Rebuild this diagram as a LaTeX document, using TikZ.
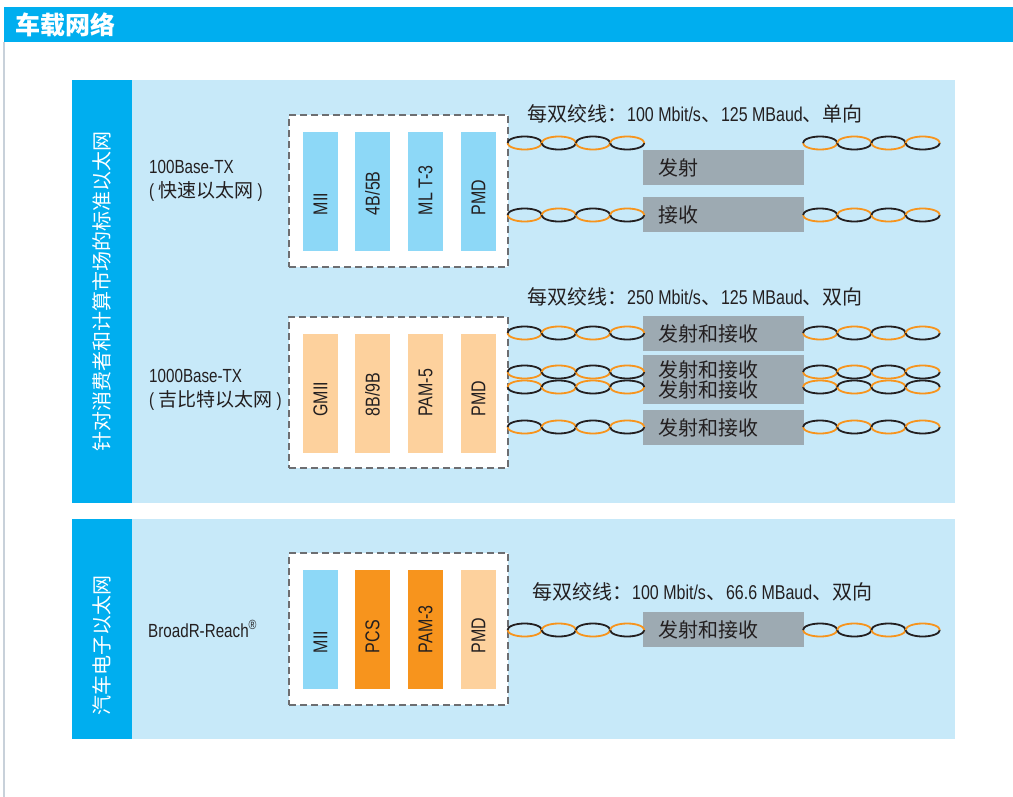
\documentclass[tikz,border=0pt]{standalone}
\usepackage{fontspec}
\setmainfont{Noto Sans CJK SC}
\newfontfamily\latnfont{Liberation Sans}[FakeStretch=0.8]
\newcommand\latn[1]{{\latnfont #1}}

\definecolor{hdrblue}{HTML}{00AEEF}
\definecolor{panelblue}{HTML}{C7E9F9}
\definecolor{phyblue}{HTML}{8DD8F7}
\definecolor{phypeach}{HTML}{FDD19D}
\definecolor{phyorange}{HTML}{F7941D}
\definecolor{wiregrey}{HTML}{9DAAB2}
\definecolor{inkdark}{HTML}{231F20}
\definecolor{dashgrey}{HTML}{6D6E71}
\definecolor{edgegrey}{HTML}{C8D1DA}

% one twisted pair: four links, #1 = left x, #2 = y, #3 = phase (0/1)
\newcommand\twpair[3]{%
  \foreach \k in {0,1,2,3}{%
    \pgfmathsetmacro\cxx{#1+17.1+34.2*\k}%
    \pgfmathtruncatemacro\ph{mod(\k+#3,2)}%
    \ifnum\ph=0 \def\uppc{inkdark}\def\lowc{phyorange}\else\def\uppc{phyorange}\def\lowc{inkdark}\fi
    \draw[line width=1.8bp, draw=\lowc] (\cxx-17.1,#2) arc[start angle=180,end angle=0,x radius=17.1,y radius=6.5];
    \draw[line width=1.8bp, draw=\uppc] (\cxx-17.1,#2) arc[start angle=180,end angle=360,x radius=17.1,y radius=6.5];
  }}

\tikzset{
  txt/.style={inner sep=0, text=inkdark, font=\fontsize{19bp}{24bp}\selectfont},
  ratetxt/.style={inner sep=0, text=inkdark, font=\fontsize{20bp}{24bp}\selectfont},
  striptext/.style={inner sep=0, text=white, rotate=90, font=\fontsize{20bp}{20bp}\selectfont},
  dbox/.style={draw=dashgrey, fill=white, dash pattern=on 7bp off 4bp, line width=1.3bp,
    minimum width=219bp, inner sep=0},
  phybar/.style={minimum width=35bp, minimum height=119bp, inner sep=0, fill=#1},
  bartext/.style={rotate=90, anchor=west, inner sep=0, text=inkdark,
    font=\latnfont\fontsize{20bp}{22bp}\selectfont},
  wbox/.style={fill=wiregrey, minimum width=161bp, minimum height=35bp, text width=131bp,
    inner xsep=15bp, inner ysep=0, align=left, text=inkdark,
    font=\fontsize{20bp}{20bp}\selectfont},
}

\begin{document}
\begin{tikzpicture}[x=1bp,y=-1bp]
\useasboundingbox (0,0) rectangle (1013,797);
\fill[white] (0,0) rectangle (1013,797);

% page header
\fill[hdrblue] (4,7) rectangle (1013,42);
\draw[edgegrey, line width=1.5bp] (4,42) -- (4,797);
\node[anchor=west, inner sep=0, text=white, font=\bfseries\fontsize{25bp}{25bp}\selectfont] (title) at (15,25) {车载网络};

% panels
\fill[panelblue] (72,80) rectangle (955,503);
\fill[hdrblue] (72,80) rectangle (132,503);
\fill[panelblue] (72,519) rectangle (955,739);
\fill[hdrblue] (72,519) rectangle (132,739);
\node[striptext] (std) at (102,291) {针对消费者和计算市场的标准以太网};
\node[striptext] (auto) at (102,645) {汽车电子以太网};

% left labels
\node[txt, anchor=base west] (fe) at (149,173) {\latn{100Base-TX}};
\node[txt, anchor=base west] (fe2) at (149,197) {\latn{( }快速以太网\latn{ )}};
\node[txt, anchor=base west] (ge) at (149,382) {\latn{1000Base-TX}};
\node[txt, anchor=base west] (ge2) at (149,406) {\latn{( }吉比特以太网\latn{ )}};
\node[txt, anchor=base west] (br) at (148,637) {\latn{BroadR-Reach\textsuperscript{®}}};

% rate lines
\node[ratetxt, anchor=base west] (rate1) at (527,121.5) {每双绞线：\latn{100 Mbit/s}、\latn{125 MBaud}、单向};
\node[ratetxt, anchor=base west] (rate2) at (527,304) {每双绞线：\latn{250 Mbit/s}、\latn{125 MBaud}、双向};
\node[ratetxt, anchor=base west] (rate3) at (532,599) {每双绞线：\latn{100 Mbit/s}、\latn{66.6 MBaud}、双向};

% PHY stacks
\node[dbox, minimum height=152bp] (stackA) at (398.5,191) {};
\node[dbox, minimum height=151bp] (stackB) at (398.5,392.5) {};
\node[dbox, minimum height=152bp] (stackC) at (398.5,629) {};

\node[phybar=phyblue] (a1) at (320.5,191.5) {};
\node[phybar=phyblue] (a2) at (372.5,191.5) {};
\node[phybar=phyblue] (a3) at (425.5,191.5) {};
\node[phybar=phyblue] (a4) at (478.5,191.5) {};
\node[bartext] (a1t) at ([yshift=36bp]a1.south) {MII};
\node[bartext] (a2t) at ([yshift=36bp]a2.south) {4B/5B};
\node[bartext] (a3t) at ([yshift=36bp]a3.south) {ML T-3};
\node[bartext] (a4t) at ([yshift=36bp]a4.south) {PMD};

\node[phybar=phypeach] (b1) at (320.5,393) {};
\node[phybar=phypeach] (b2) at (372.5,393) {};
\node[phybar=phypeach] (b3) at (425.5,393) {};
\node[phybar=phypeach] (b4) at (478.5,393) {};
\node[bartext] (b1t) at ([yshift=36bp]b1.south) {GMII};
\node[bartext] (b2t) at ([yshift=36bp]b2.south) {8B/9B};
\node[bartext] (b3t) at ([yshift=36bp]b3.south) {PAM-5};
\node[bartext] (b4t) at ([yshift=36bp]b4.south) {PMD};

\node[phybar=phyblue] (c1) at (320.5,629.5) {};
\node[phybar=phyorange] (c2) at (372.5,629.5) {};
\node[phybar=phyorange] (c3) at (425.5,629.5) {};
\node[phybar=phypeach] (c4) at (478.5,629.5) {};
\node[bartext] (c1t) at ([yshift=36bp]c1.south) {MII};
\node[bartext] (c2t) at ([yshift=36bp]c2.south) {PCS};
\node[bartext] (c3t) at ([yshift=36bp]c3.south) {PAM-3};
\node[bartext] (c4t) at ([yshift=36bp]c4.south) {PMD};

% wire direction boxes
\node[wbox] (tx) at (723.5,167.5) {发射};
\node[wbox] (rx) at (723.5,214.5) {接收};
\node[wbox] (g1) at (723.5,333.5) {发射和接收};
\node[wbox, minimum height=49bp] (g23) at (723.5,379.5) {发射和接收\\发射和接收};
\node[wbox] (g4) at (723.5,427.5) {发射和接收};
\node[wbox] (bx) at (723.5,629.5) {发射和接收};

% twisted pairs
\twpair{507.5}{143}{0}
\twpair{803}{143}{0}
\twpair{507.5}{215}{0}
\twpair{803}{215}{0}
\twpair{507.5}{333}{0}
\twpair{803}{333}{0}
\twpair{507.5}{372}{0}
\twpair{803}{372}{0}
\twpair{507.5}{387}{1}
\twpair{803}{387}{1}
\twpair{507.5}{427}{0}
\twpair{803}{427}{0}
\twpair{507.5}{630}{0}
\twpair{803}{630}{0}
\end{tikzpicture}
\end{document}
